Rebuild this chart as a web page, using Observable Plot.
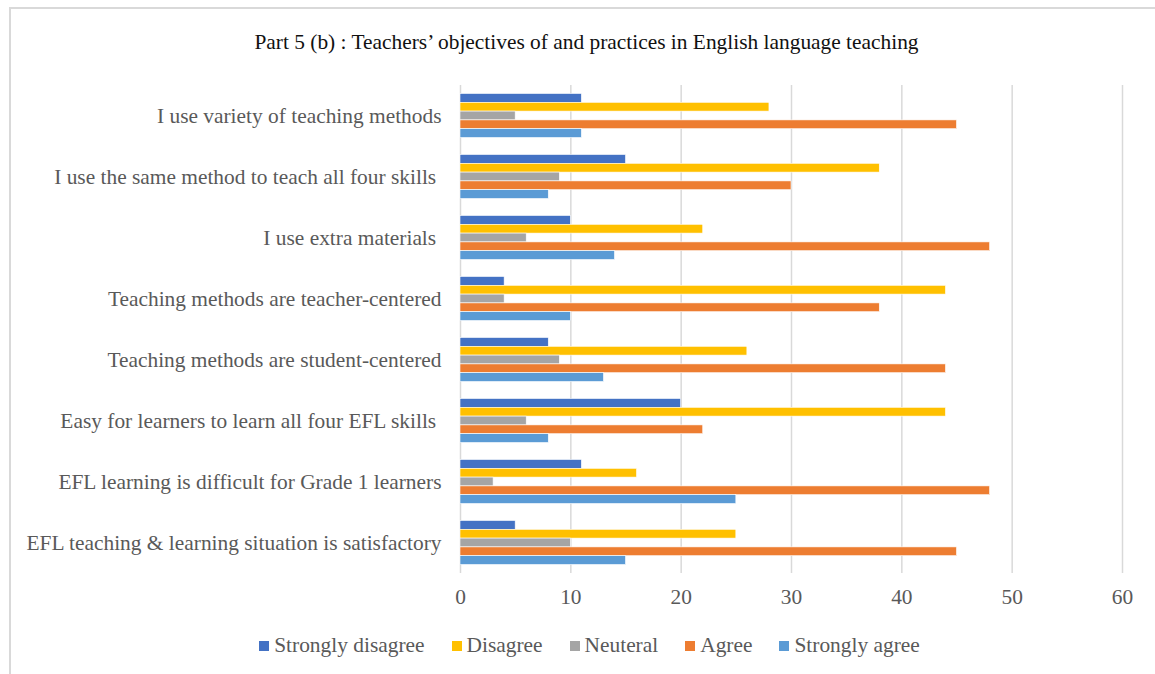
<!DOCTYPE html>
<html>
<head>
<meta charset="utf-8">
<script src="https://cdn.jsdelivr.net/npm/d3@7"></script>
<script src="https://cdn.jsdelivr.net/npm/@observablehq/plot@0.6"></script>
<style>
  html, body { margin: 0; padding: 0; background: #fff; }
  body { width: 1155px; height: 674px; position: relative; overflow: hidden; font-family: "Liberation Serif", "Times New Roman", serif; }
  #frame { position: absolute; left: 9px; top: 7px; right: -5px; bottom: -5px; border-left: 2px solid #d9d9d9; border-top: 2px solid #d9d9d9; }
  #title { position: absolute; left: 9px; width: 1155px; top: 29px; text-align: center; font-size: 21.4px; color: #111; line-height: 26px; }
  #chart { position: absolute; left: 0; top: 0; }
  #legend { position: absolute; left: 0; width: 1179px; top: 632px; display: flex; justify-content: center; gap: 27px; font-size: 21.4px; color: #595959; line-height: 26px; }
  .item { display: flex; align-items: center; }
  .sw { width: 10px; height: 10px; margin-right: 5px; margin-top: 2px; }
</style>
</head>
<body>
<div id="frame"></div>
<div id="title">Part 5 (b) : Teachers’ objectives of and practices in English language teaching</div>
<div id="chart"></div>
<div id="legend"></div>
<script>
const categories = [
  "I use variety of teaching methods",
  "I use the same method to teach all four skills\u00a0",
  "I use extra materials\u00a0",
  "Teaching methods are teacher-centered",
  "Teaching methods are student-centered",
  "Easy for learners to learn all four EFL skills\u00a0",
  "EFL learning is difficult for Grade 1 learners",
  "EFL teaching & learning situation is satisfactory"
];
const seriesNames = ["Strongly disagree", "Disagree", "Neuteral", "Agree", "Strongly agree"];
const seriesColors = ["#4472C4", "#FFC000", "#A5A5A5", "#ED7D31", "#5B9BD5"];
const stronglyDisagree = [11, 15, 10, 4, 8, 20, 11, 5];
const disagree         = [28, 38, 22, 44, 26, 44, 16, 25];
const neutral          = [5, 9, 6, 4, 9, 6, 3, 10];
const agree            = [45, 30, 48, 38, 44, 22, 48, 45];
const stronglyAgree    = [11, 8, 14, 10, 13, 8, 25, 15];
const xTicks = [0, 10, 20, 30, 40, 50, 60];

const seriesValues = [stronglyDisagree, disagree, neutral, agree, stronglyAgree];
const data = [];
categories.forEach((c, i) => {
  seriesNames.forEach((s, j) => {
    data.push({cat: c, series: s, value: seriesValues[j][i]});
  });
});

const chart = Plot.plot({
  width: 1155,
  height: 620,
  marginLeft: 460,
  marginRight: 33,
  marginTop: 85,
  marginBottom: 47,
  style: {fontFamily: "'Liberation Serif', 'Times New Roman', serif", fontSize: "21.4px", color: "#595959", background: "transparent"},
  x: {domain: [0, 60], ticks: xTicks, tickSize: 0, tickPadding: 15, label: null, tickFormat: d => String(d)},
  y: {domain: seriesNames, axis: null, paddingInner: 0, paddingOuter: 0.966, round: false},
  fy: {domain: categories, padding: 0, axis: "left", tickSize: 0, tickPadding: 19, label: null, round: false},
  color: {domain: seriesNames, range: seriesColors},
  marks: [
    Plot.gridX(xTicks, {stroke: "#d9d9d9", strokeOpacity: 1, strokeWidth: 1.5}),
    Plot.barX(data, {x: "value", y: "series", fy: "cat", fill: "series", stroke: "white", strokeWidth: 0.6, inset: 0})
  ]
});
document.getElementById("chart").appendChild(chart);

const legend = d3.select("#legend");
seriesNames.forEach((s, i) => {
  const it = legend.append("div").attr("class", "item");
  it.append("div").attr("class", "sw").style("background", seriesColors[i]);
  it.append("span").text(s);
});
</script>
</body>
</html>
